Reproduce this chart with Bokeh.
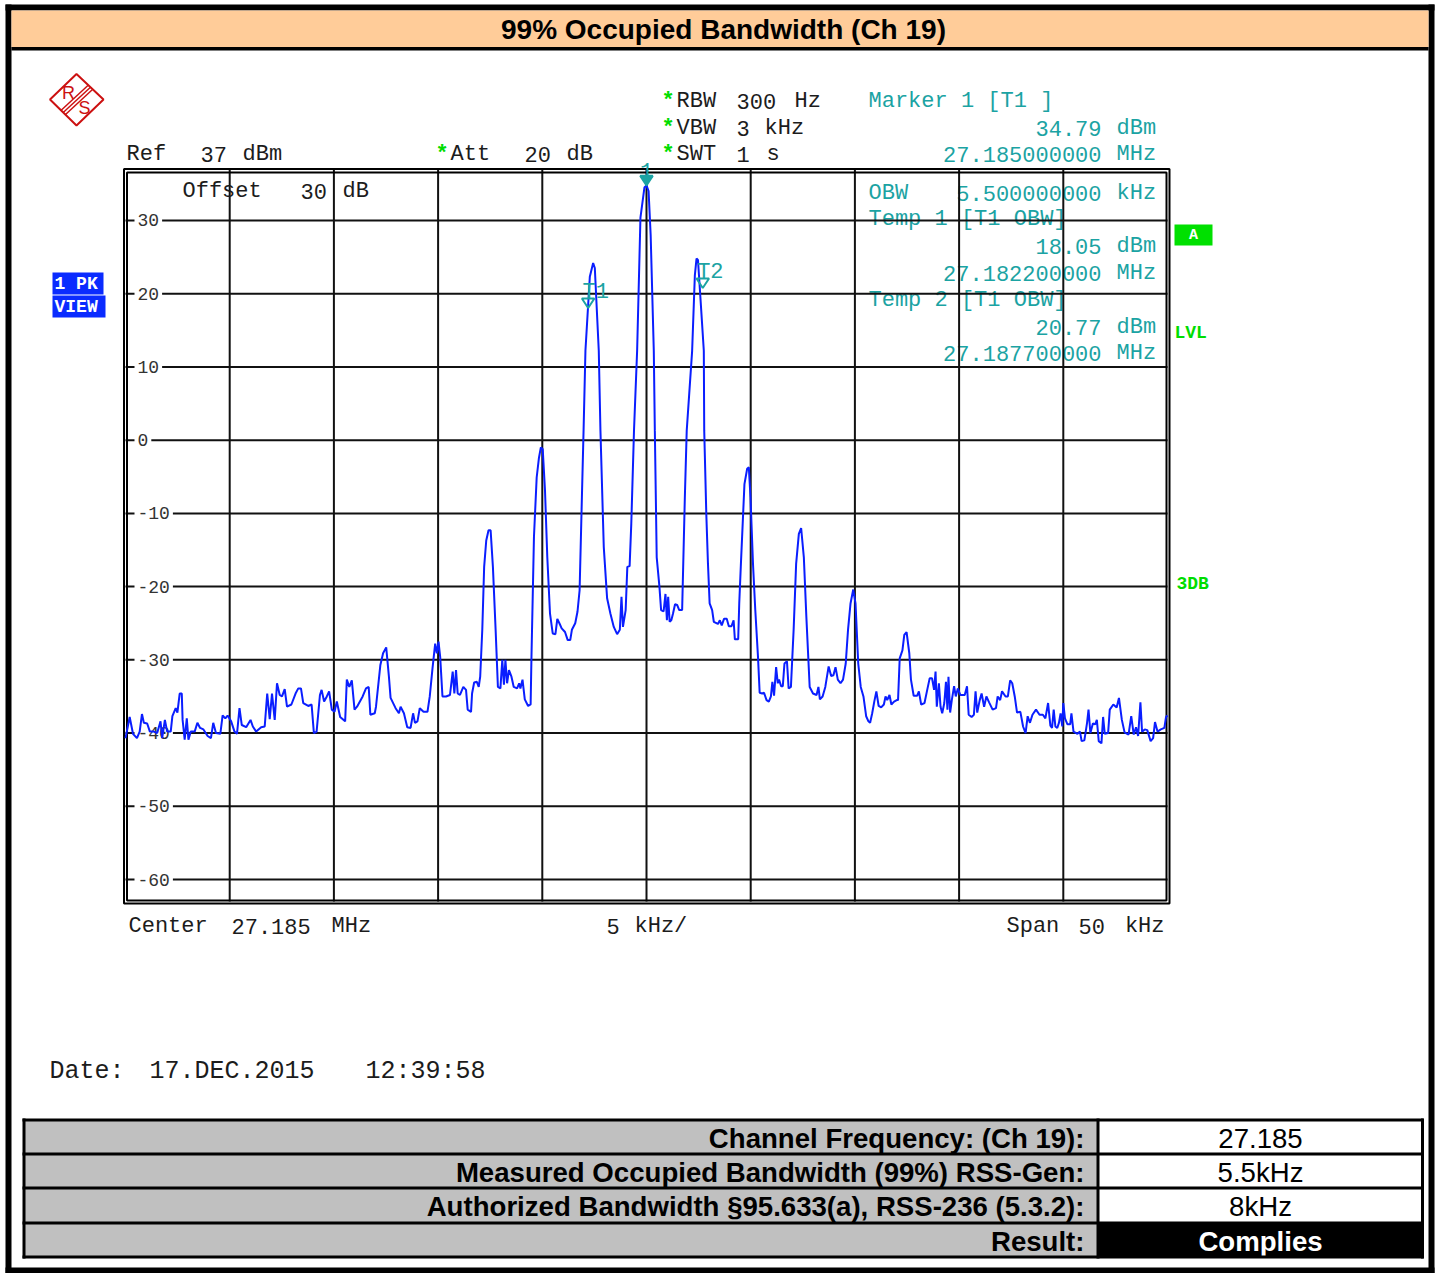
from bokeh.plotting import figure
from bokeh.models import Range1d
from bokeh.embed import file_html
from bokeh.resources import INLINE
from bokeh.core.properties import value

# ------------------------------------------------------------------ data
freq_khz = [
    -25.00, -24.80, -24.64, -24.45, -24.32, -24.21, -24.12, -23.96, -23.83, -23.64,
    -23.48, -23.32, -23.24, -23.11, -23.00, -22.83, -22.75, -22.59, -22.51, -22.40,
    -22.30, -22.26, -22.16, -22.06, -21.98, -21.87, -21.68, -21.55, -21.42, -21.26,
    -21.06, -20.90, -20.79, -20.66, -20.45, -20.34, -20.21, -20.10, -19.93, -19.77,
    -19.65, -19.53, -19.42, -19.21, -19.00, -18.89, -18.73, -18.49, -18.32, -18.20,
    -18.08, -17.97, -17.84, -17.73, -17.60, -17.49, -17.36, -17.25, -17.04, -16.84,
    -16.71, -16.58, -16.47, -16.23, -16.07, -15.96, -15.83, -15.67, -15.59, -15.47,
    -15.34, -15.23, -15.10, -14.97, -14.86, -14.70, -14.46, -14.38, -14.26, -14.14,
    -14.01, -13.89, -13.62, -13.46, -13.33, -13.25, -13.04, -12.98, -12.77, -12.64,
    -12.49, -12.36, -12.28, -12.04, -11.88, -11.80, -11.64, -11.48, -11.32, -11.20,
    -11.11, -10.99, -10.88, -10.70, -10.51, -10.40, -10.27, -10.14, -10.06, -9.98,
    -9.90, -9.79, -9.62, -9.43, -9.30, -9.22, -9.14, -9.06, -8.95, -8.79,
    -8.66, -8.58, -8.42, -8.37, -8.27, -8.14, -8.05, -7.98, -7.88, -7.79,
    -7.69, -7.58, -7.48, -7.37, -7.24, -7.13, -7.01, -6.92, -6.84, -6.77,
    -6.69, -6.60, -6.48, -6.37, -6.21, -6.11, -6.05, -5.95, -5.84, -5.68,
    -5.56, -5.52, -5.40, -5.27, -5.16, -5.07, -4.98, -4.87, -4.76, -4.63,
    -4.50, -4.37, -4.28, -4.18, -4.07, -3.91, -3.78, -3.66, -3.58, -3.42,
    -3.31, -3.21, -3.10, -3.02, -2.93, -2.72, -2.56, -2.48, -2.29, -2.21,
    -2.05, -1.89, -1.73, -1.57, -1.41, -1.28, -1.20, -1.13, -1.00, -0.92,
    -0.81, -0.73, -0.60, -0.45, -0.29, -0.10, 0.00, 0.10, 0.20, 0.35,
    0.40, 0.49, 0.62, 0.70, 0.82, 0.91, 0.98, 1.04, 1.11, 1.19,
    1.27, 1.37, 1.47, 1.57, 1.71, 1.84, 1.93, 2.19, 2.32, 2.40,
    2.47, 2.62, 2.75, 2.77, 2.87, 2.95, 3.03, 3.15, 3.23, 3.43,
    3.52, 3.61, 3.72, 3.85, 3.95, 4.08, 4.18, 4.24, 4.40, 4.45,
    4.53, 4.70, 4.83, 4.91, 4.99, 5.11, 5.22, 5.35, 5.43, 5.55,
    5.64, 5.76, 5.87, 5.97, 6.04, 6.12, 6.22, 6.30, 6.36, 6.46,
    6.54, 6.62, 6.74, 6.82, 6.93, 7.06, 7.18, 7.31, 7.42, 7.55,
    7.67, 7.83, 7.99, 8.16, 8.25, 8.32, 8.45, 8.58, 8.74, 8.86,
    8.97, 9.07, 9.18, 9.31, 9.43, 9.56, 9.67, 9.79, 9.92, 10.03,
    10.16, 10.28, 10.41, 10.54, 10.65, 10.73, 10.83, 10.93, 11.03, 11.14,
    11.26, 11.39, 11.47, 11.55, 11.66, 11.75, 11.88, 12.01, 12.07, 12.15,
    12.28, 12.37, 12.48, 12.61, 12.69, 12.82, 12.99, 13.07, 13.18, 13.34,
    13.47, 13.59, 13.70, 13.80, 13.87, 13.93, 14.03, 14.11, 14.19, 14.29,
    14.37, 14.44, 14.49, 14.57, 14.65, 14.76, 14.84, 14.94, 15.06, 15.27,
    15.38, 15.46, 15.60, 15.71, 15.79, 15.87, 15.99, 16.08, 16.20, 16.31,
    16.44, 16.61, 16.77, 16.85, 16.97, 17.06, 17.23, 17.34, 17.45, 17.55,
    17.67, 17.78, 17.94, 18.07, 18.19, 18.29, 18.40, 18.52, 18.69, 18.86,
    19.02, 19.14, 19.27, 19.38, 19.46, 19.54, 19.62, 19.71, 19.79, 19.87,
    19.95, 20.00, 20.08, 20.20, 20.33, 20.39, 20.49, 20.68, 20.80, 20.88,
    21.01, 21.14, 21.21, 21.30, 21.42, 21.53, 21.61, 21.70, 21.83, 21.91,
    21.99, 22.15, 22.23, 22.40, 22.56, 22.67, 22.81, 22.94, 23.13, 23.26,
    23.38, 23.49, 23.59, 23.70, 23.78, 23.91, 24.03, 24.19, 24.31, 24.40,
    24.52, 24.68, 24.85, 24.93, 25.00,
]
level_dbm = [
    -40.7, -37.8, -40.1, -40.7, -39.8, -37.4, -38.6, -38.7, -39.8, -39.8,
    -40.0, -38.4, -40.7, -38.2, -39.8, -39.8, -37.7, -36.6, -37.2, -34.6,
    -34.6, -38.2, -40.9, -38.0, -40.9, -39.8, -39.8, -38.6, -39.3, -39.5,
    -40.4, -40.7, -38.6, -40.0, -40.1, -37.6, -38.0, -37.6, -38.4, -39.8,
    -40.1, -36.6, -38.9, -39.2, -38.2, -39.1, -39.8, -39.2, -39.1, -34.6,
    -38.1, -34.6, -38.2, -33.2, -34.8, -35.0, -34.0, -36.4, -36.1, -34.6,
    -33.9, -33.9, -35.9, -36.3, -36.1, -40.0, -39.8, -34.8, -34.1, -35.7,
    -35.0, -34.3, -36.8, -37.1, -35.7, -37.8, -38.4, -32.7, -33.7, -32.8,
    -36.8, -36.4, -35.0, -33.9, -33.7, -37.5, -37.3, -36.4, -30.7, -29.1,
    -28.3, -32.3, -35.2, -36.6, -37.3, -36.4, -37.3, -39.2, -39.3, -37.3,
    -38.6, -38.4, -36.6, -37.1, -37.1, -35.0, -31.2, -27.8, -29.1, -27.5,
    -29.6, -35.0, -35.0, -34.8, -31.6, -34.6, -31.4, -34.6, -34.8, -33.7,
    -34.1, -36.8, -37.1, -34.6, -33.1, -33.0, -33.7, -32.3, -25.9, -17.3,
    -13.7, -12.3, -12.3, -17.3, -25.9, -33.7, -33.9, -30.0, -33.4, -30.0,
    -33.2, -31.4, -32.3, -33.7, -33.9, -33.2, -33.9, -32.7, -35.4, -36.3,
    -36.1, -29.6, -13.2, -5.1, -2.4, -1.0, -1.2, -6.9, -16.0, -23.7,
    -26.4, -26.5, -24.4, -25.0, -25.7, -26.2, -27.3, -27.3, -25.9, -25.0,
    -23.4, -20.5, -7.8, 1.3, 12.2, 22.3, 24.2, 23.5, 12.2, 1.3,
    -14.6, -21.6, -23.7, -25.5, -26.5, -25.9, -21.4, -25.5, -23.2, -17.3,
    -17.2, -11.4, 1.3, 12.2, 30.4, 34.5, 34.79, 34.0, 28.0, 12.2,
    1.3, -16.0, -20.0, -23.2, -23.4, -21.0, -24.6, -21.4, -24.8, -24.6,
    -23.7, -22.4, -22.5, -23.2, -23.2, -7.8, 1.3, 12.2, 22.5, 24.8,
    24.6, 18.0, 12.2, 1.3, -10.1, -16.9, -22.3, -23.2, -24.8, -25.1,
    -24.6, -25.3, -24.4, -24.4, -25.4, -25.4, -24.6, -27.2, -27.2, -22.3,
    -16.9, -6.0, -3.9, -3.7, -7.8, -16.9, -23.2, -29.6, -34.5, -34.6,
    -34.5, -35.5, -35.7, -35.0, -33.0, -34.9, -31.0, -33.2, -32.7, -33.6,
    -33.6, -30.5, -30.2, -33.9, -33.7, -25.9, -16.9, -12.8, -12.0, -16.0,
    -24.1, -33.7, -34.6, -34.8, -33.7, -35.4, -35.0, -33.7, -30.9, -32.2,
    -32.1, -31.0, -32.7, -33.2, -32.7, -30.5, -25.9, -22.3, -20.4, -22.3,
    -30.5, -33.7, -35.0, -37.7, -38.4, -38.6, -37.3, -35.7, -34.3, -36.3,
    -36.5, -36.1, -35.0, -35.5, -34.8, -36.1, -35.7, -35.5, -35.5, -29.8,
    -28.7, -26.6, -26.2, -29.1, -32.7, -34.9, -34.9, -34.3, -36.1, -35.9,
    -34.1, -32.5, -32.5, -34.1, -31.6, -36.4, -33.2, -36.4, -37.3, -35.9,
    -33.0, -36.8, -32.3, -37.2, -35.5, -33.6, -35.0, -33.9, -34.8, -34.8,
    -33.6, -37.5, -37.8, -37.5, -34.3, -37.2, -35.5, -34.6, -36.4, -35.0,
    -35.8, -36.8, -36.6, -35.0, -35.5, -34.3, -35.0, -35.0, -32.8, -33.2,
    -35.0, -37.2, -37.1, -39.1, -40.0, -37.7, -38.6, -37.5, -36.8, -37.5,
    -37.5, -38.0, -35.9, -39.0, -39.3, -36.8, -39.1, -39.3, -38.6, -37.3,
    -39.1, -35.9, -38.0, -38.8, -38.8, -37.3, -39.8, -40.1, -39.8, -41.1,
    -41.0, -38.6, -36.8, -40.0, -38.7, -38.8, -38.2, -41.1, -41.4, -37.8,
    -40.1, -40.0, -36.8, -36.1, -36.5, -35.2, -38.2, -39.9, -40.2, -37.7,
    -40.2, -39.2, -40.4, -35.8, -39.8, -39.5, -39.6, -41.1, -40.7, -38.5,
    -39.8, -39.5, -39.3, -37.8, -37.6,
]
assert len(freq_khz) == len(level_dbm), (len(freq_khz), len(level_dbm))

grid_freq_khz = [-20, -15, -10, -5, 0, 5, 10, 15, 20]
grid_level_dbm = [30, 20, 10, 0, -10, -20, -30, -40, -50, -60]
level_tick_labels = ["30", "20", "10", "0", "-10", "-20", "-30", "-40", "-50", "-60"]

marker_names = ["1", "T1", "T2"]
marker_freq_khz = [0.0, -2.8, 2.7]
marker_level_dbm = [34.79, 18.05, 20.77]

table_labels = [
    "Channel Frequency: (Ch 19):",
    "Measured Occupied Bandwidth (99%) RSS-Gen:",
    "Authorized Bandwidth §95.633(a), RSS-236 (5.3.2):",
    "Result:",
]
table_values = ["27.185", "5.5kHz", "8kHz", "Complies"]

# ------------------------------------------------------------------ layout
W, H = 1439, 1273
OX, OY = 0, 0
SPAN_L, SPAN_R = -25.0, 25.0       # kHz around 27.185 MHz
REF_TOP, REF_BOT = 37.0, -63.0     # dBm
BOX_L, BOX_R = 125.0, 1167.0       # screen position of the spectrum grid
BOX_T, BOX_B = 168.7, 901.0

kx = (SPAN_R - SPAN_L) / (BOX_R - BOX_L)
ky = (REF_TOP - REF_BOT) / (BOX_B - BOX_T)
f_range = Range1d(SPAN_L - (BOX_L - OX) * kx, SPAN_R + (OX + W - BOX_R) * kx)
db_range = Range1d(REF_BOT - (OY + H - BOX_B) * ky, REF_TOP + (BOX_T - OY) * ky)

MONO = "Liberation Mono"
SANS = "Liberation Sans"
INK = "#1c1c1c"
CYAN = "#1ba3a3"
GREEN = "#00dd00"
BLUE = "#0a1eff"

p = figure(width=W, height=H, x_range=Range1d(OX, OX + W), y_range=Range1d(OY + H, OY),
           x_axis_type=None, y_axis_type=None, toolbar_location=None, min_border=0,
           output_backend="svg", outline_line_color=None,
           background_fill_color="white", border_fill_color="white")
p.title.visible = False
p.extra_x_ranges = {"f": f_range}
p.extra_y_ranges = {"db": db_range}


def put(x, y, s, size=22, color=INK, align="left", base="alphabetic", font=MONO,
        style="normal", xr="default", yr="default"):
    p.text(x=[x], y=[y], text=[s], text_font=value(font), text_font_size=f"{size}px",
           text_color=color, text_align=align, text_baseline=base, text_font_style=style,
           x_range_name=xr, y_range_name=yr)


def box(l, r, t, b, color):
    p.quad(left=l, right=r, top=t, bottom=b, fill_color=color, line_color=None)


# outer border + title bar
box(5, 11, 4, 1273, "black")
box(5, 1434, 4, 10, "black")
box(1428, 1434, 4, 1273, "black")
box(5, 1434, 1267, 1273, "black")
box(11, 1428, 10, 46.5, "#ffcc99")
box(11, 1428, 46.5, 50, "black")
put(723, 29, "99% Occupied Bandwidth (Ch 19)", size=28, font=SANS, style="bold",
    align="center", base="middle", color="black")

# R&S logo
RED = "#cc1111"
p.patch([49.5, 76, 103, 76], [99, 73.5, 99, 125], fill_color=None, line_color=RED, line_width=2)
for k in (-3, 0, 3):
    p.line([62.7 + 0.68 * k, 89.7 + 0.68 * k], [112 + 0.73 * k, 87 + 0.73 * k],
           line_color=RED, line_width=1.5)
put(68, 92, "R", size=18, font=SANS, color=RED, align="center", base="middle")
put(84, 107, "S", size=18, font=SANS, color=RED, align="center", base="middle")

# header texts
for s, x, y in [("Ref", 126, 154), ("37", 200, 154), ("dBm", 242, 154),
                ("Att", 450, 154), ("20", 524, 154), ("dB", 566, 154),
                ("RBW", 676, 101), ("300", 736, 101), ("Hz", 794, 101),
                ("VBW", 676, 127.5), ("3", 736, 127.5), ("kHz", 764, 127.5),
                ("SWT", 676, 154), ("1", 736, 154), ("s", 766, 154)]:
    put(x, y, s)
for x, y in [(661, 101), (661, 127.5), (661, 154), (435, 154)]:
    put(x, y, "*", color=GREEN, style="bold")

for s, y in [("Marker 1 [T1 ]", 101), ("OBW", 192.5), ("Temp 1 [T1 OBW]", 219),
             ("Temp 2 [T1 OBW]", 300)]:
    put(868, y, s, color=CYAN)
for s, y in [("34.79", 127.5), ("27.185000000", 154), ("5.500000000", 192.5),
             ("18.05", 246), ("27.182200000", 273), ("20.77", 326.5),
             ("27.187700000", 353)]:
    put(1101, y, s, color=CYAN, align="right")
for s, y in [("dBm", 127.5), ("MHz", 154), ("kHz", 192.5), ("dBm", 246),
             ("MHz", 273), ("dBm", 326.5), ("MHz", 353)]:
    put(1116, y, s, color=CYAN)

# side indicators
box(52, 103, 272, 294, "#0a2bff")
box(52, 105, 295, 317, "#0a2bff")
put(54, 283.5, "1 PK", size=18, color="white", style="bold", base="middle")
put(54, 306.5, "VIEW", size=18, color="white", style="bold", base="middle")
box(1174, 1212, 224, 245, "#00e000")
put(1193, 235, "A", size=15, color="white", style="bold", align="center", base="middle")
put(1174, 332, "LVL", size=18, color=GREEN, style="bold")
put(1176, 583, "3DB", size=18, color=GREEN, style="bold")

# spectrum grid
n_v = len(grid_freq_khz)
n_h = len(grid_level_dbm)
p.segment(x0=grid_freq_khz, y0=[REF_BOT] * n_v, x1=grid_freq_khz, y1=[REF_TOP] * n_v,
          x_range_name="f", y_range_name="db", line_color="#111111", line_width=2)
p.segment(x0=[SPAN_L] * n_h, y0=grid_level_dbm, x1=[SPAN_R] * n_h, y1=grid_level_dbm,
          x_range_name="f", y_range_name="db", line_color="#111111", line_width=2)
p.quad(left=123.5, right=1169, top=168.5, bottom=903, fill_color=None,
       line_color="black", line_width=2)
p.quad(left=126.5, right=1166, top=172, bottom=900, fill_color=None,
       line_color="black", line_width=2)
p.text(x=[134] * n_h, y=grid_level_dbm, text=level_tick_labels, y_range_name="db",
       text_font=value(MONO), text_font_size="18px", text_color="#333333",
       text_align="left", text_baseline="middle",
       background_fill_color="white", padding=3)

put(182, 191, "Offset")
put(300, 191, "30")
put(342, 191, "dB")

# trace
p.line(freq_khz, level_dbm, x_range_name="f", y_range_name="db",
       line_color=BLUE, line_width=2)

# markers
TRI_DX, TRI_DY = 0.30, 1.3
xs = [[f - TRI_DX, f + TRI_DX, f] for f in marker_freq_khz]
ys = [[v + TRI_DY, v + TRI_DY, v] for v in marker_level_dbm]
p.patches(xs, ys, x_range_name="f", y_range_name="db", line_color=CYAN, line_width=2,
          fill_color=CYAN, fill_alpha=[1.0, 0.0, 0.0])
p.text(x=[marker_freq_khz[0]], y=[marker_level_dbm[0] + 2.1], text=[marker_names[0]],
       x_range_name="f", y_range_name="db", text_font=value(MONO), text_font_size="22px",
       text_color=CYAN, text_align="center", text_baseline="alphabetic")
p.text(x=[f - 0.27 for f in marker_freq_khz[1:]], y=[v + 2.1 for v in marker_level_dbm[1:]],
       text=marker_names[1:], x_range_name="f", y_range_name="db", text_font=value(MONO),
       text_font_size="22px", text_color=CYAN, text_align="left", text_baseline="alphabetic")

# bottom annotations
for s, x in [("Center", 128), ("27.185", 231), ("MHz", 331), ("5", 606), ("kHz/", 634),
             ("Span", 1006), ("50", 1078)]:
    put(x, 926, s)
put(1164, 926, "kHz", align="right")

for s, x in [("Date:", 49), ("17.DEC.2015", 149), ("12:39:58", 365)]:
    put(x, 1071, s, size=25)

# result table
row_edges = [1119.5, 1153.5, 1187.5, 1222.5, 1256.5]
for i in range(len(table_labels)):
    t, b = row_edges[i], row_edges[i + 1]
    box(23, 1097.5, t, b, "#c0c0c0")
    box(1097.5, 1422, t, b, "black" if i == len(table_labels) - 1 else "white")
    mid = (t + b) / 2 + 1
    put(1084, mid, table_labels[i], size=27.6, font=SANS, style="bold", align="right",
        base="middle", color="black")
    last = i == len(table_labels) - 1
    put(1260, mid, table_values[i], size=27.6, font=SANS, style="bold" if last else "normal",
        align="center", base="middle", color="white" if last else "black")
for y in row_edges:
    p.line([22, 1423], [y, y], line_color="black", line_width=3)
for x in [23.5, 1097.5, 1422]:
    p.line([x, x], [1118, 1258], line_color="black", line_width=3)

open("out.html", "w").write(file_html(p, INLINE))
